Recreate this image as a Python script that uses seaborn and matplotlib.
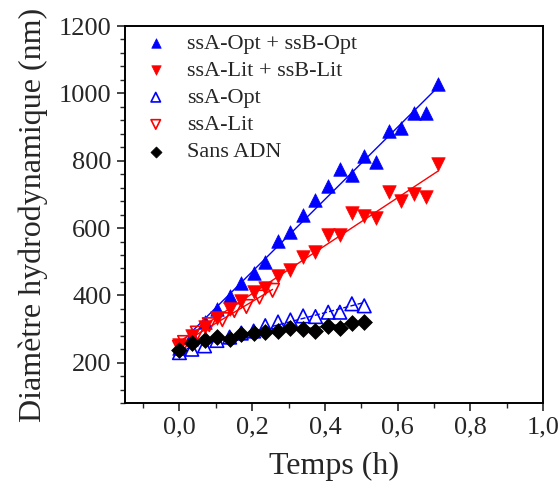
import numpy as np
import pandas as pd
import seaborn as sns
import matplotlib.pyplot as plt
from matplotlib.ticker import MultipleLocator, FuncFormatter

# time (h) and hydrodynamic diameter (nm)
t_long = [0.0, 0.034, 0.069, 0.103, 0.138, 0.170, 0.204, 0.236, 0.271, 0.305, 0.340,
          0.374, 0.409, 0.441, 0.474, 0.508, 0.541, 0.577, 0.610, 0.646, 0.679, 0.712]
opt_both = [244, 283, 320, 360, 398, 437, 465, 500, 562, 587, 639,
            684, 725, 776, 759, 814, 796, 887, 897, 941, 943, 1028]
lit_both = [253, 280, 305, 333, 360, 384, 410, 423, 458, 476, 515,
            530, 578, 578, 644, 636, 631, 708, 679, 700, 693, 790]

t_short = t_long[:16]
opt_only = [230, 240, 250, 266, 276, 288, 294, 310, 321, 327, 339, 337, 350, 350, 375, 369]
no_dna = [238, 258, 266, 275, 270, 284, 288, 290, 294, 303, 301, 293, 310, 303, 319, 322]

t_lit = [0.0, 0.014, 0.049, 0.082, 0.118, 0.151, 0.184, 0.220, 0.256]
lit_only = [246, 260, 288, 313, 328, 355, 367, 395, 415]

series = [
    ("ssA-Opt + ssB-Opt", t_long, opt_both, "^", "#0000ff", True, "-"),
    ("ssA-Lit + ssB-Lit", t_long, lit_both, "v", "#ff0000", True, "-"),
    ("ssA-Opt", t_short, opt_only, "^", "#0000ff", False, "--"),
    ("ssA-Lit", t_lit, lit_only, "v", "#ff0000", False, "-"),
    ("Sans ADN", t_short, no_dna, "D", "black", True, "-"),
]

sns.set_style("ticks")
plt.rcParams['font.family'] = ['Liberation Serif', 'DejaVu Serif']

fig = plt.figure(figsize=(5.6, 4.91), dpi=100)
ax = fig.add_axes([0.223, 0.179, 0.747, 0.768])

for name, t, d, mk, col, filled, ls in series:
    df = pd.DataFrame({"t": t, "d": d})
    sns.regplot(data=df, x="t", y="d", scatter=False, ci=None, ax=ax,
                line_kws=dict(color=col, lw=1.0, ls=ls))
for name, t, d, mk, col, filled, ls in series:
    df = pd.DataFrame({"t": t, "d": d})
    size = 65 if mk == "D" else 95
    if filled:
        sns.scatterplot(data=df, x="t", y="d", marker=mk, color=col, s=size,
                        edgecolor=col, linewidth=0.5, label=name, ax=ax, zorder=3)
    else:
        sns.scatterplot(data=df, x="t", y="d", marker=mk, s=size, facecolor="none",
                        edgecolor=col, linewidth=1.2, label=name, ax=ax, zorder=3)

ax.set_xlim(-0.15, 1.0)
ax.set_ylim(80, 1200)
ax.xaxis.set_major_locator(MultipleLocator(0.2))
ax.xaxis.set_minor_locator(MultipleLocator(0.1))
ax.yaxis.set_major_locator(MultipleLocator(200))
ax.yaxis.set_minor_locator(MultipleLocator(40))
ax.xaxis.set_major_formatter(FuncFormatter(lambda v, p: f"{v:.1f}".replace(".", ",")))
ax.tick_params(which="major", direction="out", length=6, width=1.2, labelsize=19,
               top=False, right=False)
ax.tick_params(which="minor", direction="out", length=3.5, width=1.0,
               top=False, right=False)
for sp in ax.spines.values():
    sp.set_visible(True)
    sp.set_linewidth(1.4)
    sp.set_color("black")

ax.set_xlabel("Temps (h)", fontsize=23, labelpad=10)
ax.set_ylabel("Diamètre hydrodynamique (nm)", fontsize=23, labelpad=8)

leg = ax.legend(loc="upper left", frameon=False, fontsize=16, markerscale=0.7,
                handlelength=1.0, handletextpad=0.9, labelspacing=0.3,
                borderaxespad=0.0, bbox_to_anchor=(0.026, 1.005))

fig.savefig("out.png", dpi=100)
